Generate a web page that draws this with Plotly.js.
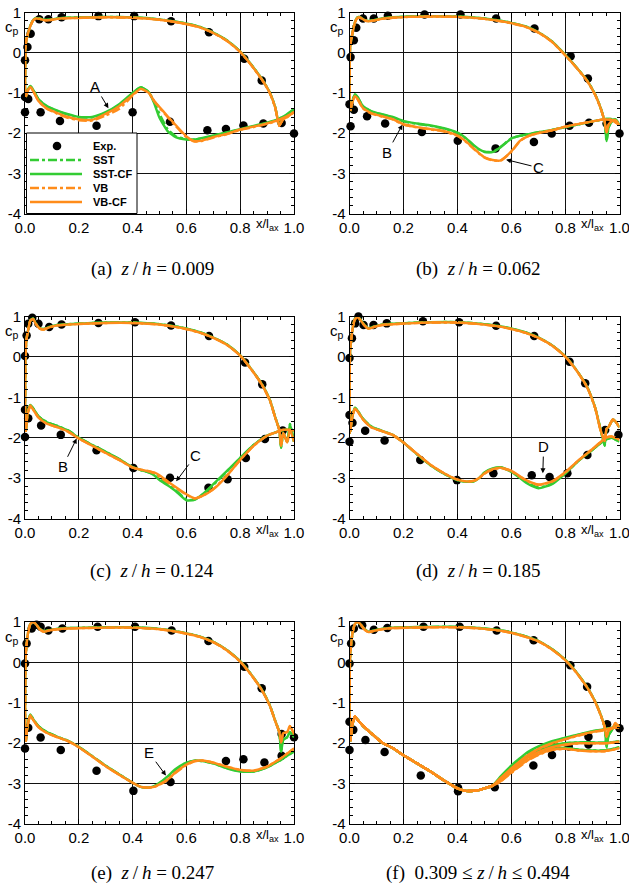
<!DOCTYPE html>
<html>
<head>
<meta charset="utf-8">
<script src="https://cdn.plot.ly/plotly-3.0.1.min.js"></script>
<style>
  html, body { margin: 0; padding: 0; background: #fff; }
  #chart { width: 629px; height: 888px; }
</style>
</head>
<body>
<div id="chart"></div>
<script>
// ---- stations along the blade (x / l_ax) ----
const xPS = [0, 0.002, 0.006, 0.012, 0.02, 0.03, 0.04, 0.055, 0.07, 0.09, 0.12, 0.16, 0.22, 0.3, 0.4, 0.5, 0.58, 0.65, 0.7, 0.75, 0.8, 0.84, 0.88, 0.91, 0.93, 0.945, 0.952, 0.96, 0.975, 0.985, 1.0];
const xSS = [0.003, 0.01, 0.02, 0.03, 0.05, 0.08, 0.12, 0.16, 0.2, 0.25, 0.3, 0.35, 0.4, 0.43, 0.46, 0.48, 0.5, 0.53, 0.56, 0.6, 0.63, 0.66, 0.7, 0.75, 0.8, 0.85, 0.9, 0.94, 0.95, 0.97, 1.0];

// ---- (a) z/h = 0.009 ----
const expA_x  = [0, 0.009, 0.021, 0.053, 0.087, 0.136, 0.273, 0.406, 0.543, 0.684, 0.815, 0.88, 0, 0.012, 0, 0.058, 0.13, 0.266, 0.4, 0.539, 0.678, 0.747, 0.812, 0.886, 0.954, 1.0];
const expA_cp = [-0.19, 0.14, 0.47, 0.83, 0.83, 0.88, 0.91, 0.91, 0.78, 0.51, -0.15, -0.69, -1.10, -1.15, -1.48, -1.48, -1.70, -1.82, -1.48, -1.72, -1.93, -1.90, -1.81, -1.76, -1.75, -2.01];
const psA_green  = [-1.1, 0.15, 0.35, 0.5, 0.67, 0.81, 0.86, 0.85, 0.82, 0.82, 0.85, 0.87, 0.88, 0.89, 0.88, 0.83, 0.75, 0.64, 0.5, 0.31, 0.03, -0.29, -0.65, -0.99, -1.35, -1.8, -1.72, -1.63, -1.56, -1.5, -1.4];
const psA_orange = [-1.1, 0.15, 0.35, 0.5, 0.66, 0.8, 0.85, 0.84, 0.81, 0.81, 0.84, 0.86, 0.87, 0.88, 0.87, 0.82, 0.74, 0.63, 0.49, 0.3, 0.02, -0.3, -0.66, -1.0, -1.36, -1.82, -1.74, -1.66, -1.6, -1.55, -1.48];
const ssA_sst   = [-1.1, -0.93, -0.83, -0.92, -1.16, -1.33, -1.45, -1.54, -1.61, -1.61, -1.5, -1.3, -1.01, -0.86, -0.98, -1.22, -1.52, -1.9, -2.08, -2.15, -2.16, -2.13, -2.07, -1.99, -1.91, -1.83, -1.75, -1.67, -1.63, -1.56, -1.42];
const ssA_sstcf = [-1.1, -0.93, -0.83, -0.92, -1.15, -1.32, -1.44, -1.53, -1.6, -1.6, -1.48, -1.28, -1.0, -0.86, -0.98, -1.25, -1.62, -1.95, -2.1, -2.16, -2.16, -2.12, -2.06, -1.98, -1.9, -1.82, -1.74, -1.66, -1.62, -1.55, -1.4];
const ssA_vb    = [-1.1, -0.95, -0.85, -0.95, -1.2, -1.39, -1.52, -1.62, -1.68, -1.69, -1.56, -1.4, -1.07, -0.9, -1.0, -1.2, -1.37, -1.6, -1.82, -2.1, -2.21, -2.19, -2.11, -2.03, -1.92, -1.85, -1.77, -1.69, -1.66, -1.6, -1.48];
const ssA_vbcf  = [-1.1, -0.95, -0.85, -0.95, -1.2, -1.38, -1.5, -1.6, -1.66, -1.67, -1.52, -1.33, -1.05, -0.9, -1.0, -1.2, -1.35, -1.58, -1.8, -2.08, -2.2, -2.18, -2.1, -2.02, -1.91, -1.84, -1.76, -1.68, -1.65, -1.59, -1.48];

// ---- (b) z/h = 0.062 ----
const expB_x  = [0.004, 0.016, 0.025, 0.05, 0.09, 0.142, 0.278, 0.411, 0.543, 0.685, 0.819, 0.883, 0, 0.016, 0.004, 0.065, 0.132, 0.268, 0.401, 0.541, 0.683, 0.749, 0.815, 0.887, 0.952, 1.0];
const expB_cp = [-0.11, 0.31, 0.62, 0.85, 0.85, 0.92, 0.95, 0.95, 0.85, 0.60, -0.09, -0.64, -1.28, -1.42, -1.83, -1.58, -1.76, -1.97, -2.19, -2.38, -2.22, -2.01, -1.82, -1.74, -1.76, -2.01];
const psB_green  = [-1.45, 0.1, 0.3, 0.52, 0.76, 0.88, 0.88, 0.82, 0.79, 0.81, 0.85, 0.88, 0.9, 0.91, 0.9, 0.85, 0.77, 0.66, 0.51, 0.28, -0.06, -0.36, -0.69, -1.04, -1.37, -1.72, -2.2, -1.85, -1.68, -1.66, -1.78];
const psB_orange = [-1.45, 0.1, 0.3, 0.52, 0.75, 0.87, 0.87, 0.81, 0.78, 0.8, 0.84, 0.87, 0.89, 0.9, 0.89, 0.84, 0.76, 0.65, 0.5, 0.27, -0.07, -0.37, -0.7, -1.05, -1.38, -1.72, -1.98, -1.78, -1.68, -1.68, -1.8];
const ssB_sst   = [-1.45, -1.22, -1.04, -1.11, -1.34, -1.46, -1.54, -1.61, -1.71, -1.77, -1.82, -1.89, -2.0, -2.13, -2.31, -2.41, -2.47, -2.47, -2.34, -2.13, -2.07, -2.03, -1.98, -1.92, -1.85, -1.78, -1.71, -1.66, -1.65, -1.65, -1.78];
const ssB_sstcf = [-1.45, -1.22, -1.03, -1.1, -1.33, -1.45, -1.53, -1.6, -1.7, -1.76, -1.81, -1.88, -1.99, -2.12, -2.3, -2.4, -2.46, -2.47, -2.35, -2.13, -2.07, -2.03, -1.98, -1.92, -1.85, -1.78, -1.71, -1.66, -1.65, -1.65, -1.78];
const ssB_vb    = [-1.45, -1.25, -1.09, -1.16, -1.39, -1.51, -1.59, -1.66, -1.79, -1.86, -1.91, -1.96, -2.07, -2.21, -2.39, -2.51, -2.61, -2.68, -2.68, -2.46, -2.21, -2.08, -2.0, -1.93, -1.84, -1.77, -1.71, -1.66, -1.66, -1.67, -1.8];
const ssB_vbcf  = [-1.45, -1.25, -1.08, -1.15, -1.38, -1.5, -1.58, -1.65, -1.78, -1.85, -1.9, -1.95, -2.06, -2.2, -2.38, -2.5, -2.6, -2.67, -2.68, -2.45, -2.2, -2.08, -2.0, -1.93, -1.84, -1.77, -1.71, -1.66, -1.66, -1.67, -1.8];

// ---- (c) z/h = 0.124 ----
const expC_x  = [0, 0.006, 0.012, 0.027, 0.05, 0.09, 0.136, 0.273, 0.409, 0.543, 0.684, 0.818, 0.882, 0, 0.012, 0, 0.06, 0.133, 0.266, 0.403, 0.539, 0.682, 0.753, 0.821, 0.892, 0.958];
const expC_cp = [0.02, 0.53, 0.82, 0.97, 0.82, 0.74, 0.80, 0.84, 0.86, 0.78, 0.52, -0.14, -0.68, -1.31, -1.52, -1.98, -1.70, -1.93, -2.31, -2.75, -2.99, -3.24, -3.03, -2.50, -2.03, -1.82];
const psC_green  = [-1.85, 0.1, 0.45, 0.68, 0.9, 0.95, 0.83, 0.71, 0.69, 0.74, 0.79, 0.81, 0.83, 0.85, 0.85, 0.81, 0.73, 0.61, 0.48, 0.31, 0.04, -0.29, -0.67, -1.06, -1.49, -1.8, -2.25, -1.88, -2.1, -1.66, -2.1];
const psC_orange = [-1.85, 0.1, 0.45, 0.68, 0.9, 0.94, 0.82, 0.7, 0.68, 0.73, 0.78, 0.8, 0.82, 0.84, 0.84, 0.8, 0.72, 0.6, 0.47, 0.3, 0.03, -0.3, -0.68, -1.07, -1.5, -1.8, -2.2, -1.88, -2.12, -1.8, -2.1];
const ssC_sst   = [-1.85, -1.38, -1.19, -1.27, -1.47, -1.61, -1.71, -1.82, -2.0, -2.18, -2.35, -2.53, -2.73, -2.8, -2.86, -2.9, -3.0, -3.16, -3.3, -3.53, -3.54, -3.41, -3.17, -2.84, -2.5, -2.18, -1.95, -1.85, -1.83, -1.8, -1.82];
const ssC_sstcf = [-1.85, -1.38, -1.19, -1.27, -1.47, -1.61, -1.71, -1.82, -2.0, -2.18, -2.35, -2.53, -2.73, -2.8, -2.86, -2.93, -3.05, -3.18, -3.32, -3.55, -3.53, -3.4, -3.15, -2.83, -2.5, -2.18, -1.95, -1.85, -1.83, -1.8, -1.82];
const ssC_vb    = [-1.85, -1.4, -1.21, -1.3, -1.5, -1.65, -1.74, -1.85, -2.02, -2.2, -2.38, -2.55, -2.74, -2.79, -2.83, -2.88, -2.97, -3.1, -3.24, -3.41, -3.5, -3.44, -3.27, -2.94, -2.55, -2.2, -1.95, -1.85, -1.82, -1.8, -1.82];
const ssC_vbcf  = [-1.85, -1.4, -1.21, -1.3, -1.5, -1.65, -1.74, -1.85, -2.02, -2.2, -2.38, -2.55, -2.74, -2.79, -2.83, -2.86, -2.93, -3.08, -3.22, -3.4, -3.5, -3.44, -3.28, -2.95, -2.55, -2.2, -1.95, -1.85, -1.82, -1.8, -1.82];

// ---- (d) z/h = 0.185 ----
const expD_x  = [0, 0.009, 0.021, 0.033, 0.052, 0.089, 0.138, 0.272, 0.406, 0.543, 0.684, 0.815, 0.873, 0, 0.011, 0, 0.058, 0.13, 0.262, 0.398, 0.533, 0.675, 0.741, 0.807, 0.881, 0.947, 0.996];
const expD_cp = [-0.03, 0.46, 0.83, 1.0, 0.79, 0.79, 0.83, 0.88, 0.86, 0.77, 0.52, -0.12, -0.65, -1.44, -1.63, -2.10, -1.83, -2.07, -2.55, -3.05, -2.88, -2.93, -2.97, -2.88, -2.43, -1.81, -1.93];
const psD_green  = [-1.9, 0.1, 0.4, 0.72, 0.94, 0.99, 0.93, 0.79, 0.71, 0.75, 0.8, 0.82, 0.84, 0.86, 0.86, 0.81, 0.73, 0.61, 0.48, 0.29, 0.01, -0.32, -0.74, -1.26, -1.8, -2.2, -1.78, -1.73, -1.55, -1.6, -1.75];
const psD_orange = [-1.9, 0.1, 0.4, 0.72, 0.93, 0.98, 0.92, 0.78, 0.7, 0.74, 0.79, 0.81, 0.83, 0.85, 0.85, 0.8, 0.72, 0.6, 0.47, 0.28, 0.0, -0.33, -0.75, -1.27, -1.82, -2.08, -1.78, -1.73, -1.55, -1.6, -1.75];
const ssD_sst   = [-1.85, -1.48, -1.26, -1.33, -1.53, -1.72, -1.83, -1.93, -2.12, -2.41, -2.68, -2.89, -3.05, -3.09, -3.08, -3.0, -2.87, -2.77, -2.73, -2.84, -2.98, -3.12, -3.23, -3.14, -2.88, -2.56, -2.3, -2.08, -2.04, -2.0, -2.1];
const ssD_sstcf = [-1.85, -1.48, -1.26, -1.33, -1.53, -1.72, -1.83, -1.93, -2.12, -2.41, -2.68, -2.89, -3.05, -3.09, -3.08, -3.0, -2.86, -2.76, -2.73, -2.85, -2.99, -3.14, -3.25, -3.15, -2.88, -2.56, -2.3, -2.08, -2.04, -2.0, -2.1];
const ssD_vb    = [-1.85, -1.5, -1.28, -1.35, -1.55, -1.74, -1.84, -1.93, -2.12, -2.4, -2.67, -2.88, -3.04, -3.08, -3.07, -3.0, -2.89, -2.79, -2.75, -2.83, -2.96, -3.08, -3.17, -3.09, -2.86, -2.55, -2.28, -2.05, -2.0, -1.97, -2.05];
const ssD_vbcf  = [-1.85, -1.5, -1.28, -1.35, -1.55, -1.74, -1.84, -1.93, -2.12, -2.4, -2.67, -2.88, -3.04, -3.08, -3.07, -3.0, -2.88, -2.78, -2.74, -2.82, -2.95, -3.07, -3.16, -3.08, -2.85, -2.55, -2.28, -2.05, -2.0, -1.97, -2.05];

// ---- (e) z/h = 0.247 ----
const expE_x  = [0, 0.006, 0.025, 0.043, 0.058, 0.087, 0.139, 0.27, 0.409, 0.545, 0.682, 0.815, 0.88, 0.012, 0, 0.058, 0.133, 0.266, 0.403, 0.541, 0.747, 0.812, 0.89, 0.954, 0.954, 1.0];
const expE_cp = [-0.03, 0.47, 0.84, 0.93, 0.88, 0.79, 0.84, 0.88, 0.88, 0.79, 0.53, -0.11, -0.64, -1.62, -2.13, -1.86, -2.17, -2.68, -3.18, -2.96, -2.44, -2.40, -2.48, -1.77, -2.31, -1.85];
const psE_green  = [-1.95, 0.1, 0.45, 0.75, 0.95, 1.0, 0.95, 0.83, 0.77, 0.8, 0.83, 0.85, 0.86, 0.87, 0.87, 0.83, 0.75, 0.64, 0.51, 0.31, 0.03, -0.29, -0.67, -1.06, -1.44, -1.72, -2.22, -1.92, -1.85, -1.72, -1.85];
const psE_orange = [-1.95, 0.1, 0.45, 0.75, 0.95, 1.0, 0.95, 0.82, 0.76, 0.79, 0.82, 0.84, 0.85, 0.86, 0.86, 0.82, 0.74, 0.63, 0.5, 0.3, 0.02, -0.3, -0.68, -1.07, -1.45, -1.72, -1.98, -1.75, -1.72, -1.57, -1.78];
const ssE_sst   = [-1.96, -1.53, -1.29, -1.4, -1.58, -1.72, -1.84, -1.94, -2.09, -2.32, -2.56, -2.77, -2.98, -3.08, -3.1, -3.07, -2.99, -2.84, -2.66, -2.49, -2.43, -2.44, -2.5, -2.61, -2.69, -2.7, -2.6, -2.45, -2.42, -2.33, -2.2];
const ssE_sstcf = [-1.96, -1.53, -1.29, -1.4, -1.58, -1.72, -1.84, -1.94, -2.09, -2.32, -2.56, -2.77, -2.98, -3.08, -3.1, -3.06, -2.98, -2.82, -2.64, -2.48, -2.43, -2.44, -2.5, -2.62, -2.7, -2.7, -2.6, -2.45, -2.42, -2.33, -2.21];
const ssE_vb    = [-1.96, -1.55, -1.31, -1.42, -1.6, -1.74, -1.85, -1.95, -2.1, -2.33, -2.57, -2.78, -2.98, -3.08, -3.1, -3.08, -3.03, -2.91, -2.73, -2.54, -2.45, -2.43, -2.48, -2.58, -2.66, -2.68, -2.58, -2.42, -2.38, -2.28, -2.13];
const ssE_vbcf  = [-1.96, -1.55, -1.31, -1.42, -1.6, -1.74, -1.85, -1.95, -2.1, -2.33, -2.57, -2.78, -2.98, -3.08, -3.1, -3.08, -3.02, -2.9, -2.72, -2.53, -2.44, -2.43, -2.48, -2.58, -2.66, -2.68, -2.58, -2.42, -2.38, -2.28, -2.13];

// ---- (f) 0.309 <= z/h <= 0.494 (three spanwise sections) ----
const expF_x  = [0, 0.006, 0.016, 0.028, 0.047, 0.09, 0.14, 0.274, 0.408, 0.545, 0.682, 0.818, 0.88, 0, 0.014, 0, 0.059, 0.13, 0.264, 0.402, 0.402, 0.538, 0.681, 0.75, 0.812, 0.885, 0.885, 0.954, 1.0];
const expF_cp = [-0.03, 0.47, 0.84, 1.02, 0.92, 0.81, 0.85, 0.88, 0.88, 0.79, 0.55, -0.07, -0.60, -1.47, -1.67, -2.17, -1.92, -2.22, -2.80, -3.10, -3.19, -3.09, -2.55, -2.29, -2.08, -2.03, -1.84, -1.53, -1.63];
const psF_green  = [-1.95, 0.1, 0.45, 0.75, 0.95, 1.0, 0.95, 0.83, 0.76, 0.79, 0.83, 0.86, 0.87, 0.88, 0.88, 0.84, 0.77, 0.65, 0.53, 0.33, 0.06, -0.24, -0.61, -0.97, -1.29, -1.6, -2.1, -1.8, -1.64, -1.52, -1.62];
const psF_orange = [-1.95, 0.1, 0.45, 0.75, 0.95, 1.0, 0.95, 0.82, 0.75, 0.78, 0.82, 0.85, 0.86, 0.87, 0.87, 0.83, 0.76, 0.64, 0.52, 0.32, 0.05, -0.25, -0.62, -0.98, -1.3, -1.6, -1.85, -1.68, -1.62, -1.5, -1.62];
// suction side up to x = 0.53, common to the three sections
const ssF_lead = [-1.95, -1.55, -1.34, -1.42, -1.57, -1.75, -1.98, -2.12, -2.3, -2.5, -2.7, -2.92, -3.12, -3.18, -3.18, -3.16, -3.12, -3.05];
// suction side from x = 0.56 to the trailing edge
const ssF1_sst   = [-2.84, -2.58, -2.4, -2.24, -2.1, -1.97, -1.87, -1.79, -1.71, -1.67, -1.65, -1.62, -1.58];
const ssF1_sstcf = [-2.82, -2.55, -2.38, -2.22, -2.08, -1.95, -1.86, -1.78, -1.7, -1.66, -1.64, -1.62, -1.58];
const ssF1_vb    = [-2.88, -2.64, -2.47, -2.31, -2.15, -2.01, -1.9, -1.81, -1.73, -1.68, -1.66, -1.63, -1.6];
const ssF1_vbcf  = [-2.86, -2.62, -2.45, -2.3, -2.14, -2.0, -1.9, -1.8, -1.72, -1.67, -1.65, -1.63, -1.6];
const ssF2_sst   = [-2.87, -2.62, -2.46, -2.31, -2.17, -2.06, -2.0, -1.98, -1.98, -1.99, -1.99, -1.98, -1.95];
const ssF2_sstcf = [-2.86, -2.6, -2.44, -2.3, -2.16, -2.05, -2.0, -1.98, -1.98, -1.99, -1.99, -1.98, -1.95];
const ssF2_vb    = [-2.91, -2.68, -2.52, -2.37, -2.23, -2.11, -2.04, -2.0, -2.0, -2.0, -2.0, -1.99, -1.96];
const ssF2_vbcf  = [-2.9, -2.66, -2.5, -2.36, -2.22, -2.1, -2.03, -2.0, -2.0, -2.0, -2.0, -1.99, -1.96];
const ssF3_sst   = [-2.91, -2.67, -2.52, -2.37, -2.23, -2.13, -2.12, -2.16, -2.18, -2.18, -2.17, -2.15, -2.1];
const ssF3_sstcf = [-2.9, -2.65, -2.5, -2.35, -2.22, -2.12, -2.12, -2.16, -2.18, -2.18, -2.17, -2.15, -2.1];
const ssF3_vb    = [-2.95, -2.73, -2.58, -2.43, -2.29, -2.17, -2.14, -2.18, -2.2, -2.2, -2.19, -2.17, -2.12];
const ssF3_vbcf  = [-2.94, -2.72, -2.56, -2.42, -2.28, -2.16, -2.14, -2.18, -2.2, -2.2, -2.19, -2.17, -2.12];

const xTickVals = [0, 0.2, 0.4, 0.6, 0.8, 1.0];
const xTickText = ['0.0', '0.2', '0.4', '0.6', '0.8', '1.0'];
const yTickVals = [-4, -3, -2, -1, 0, 1];
const yTickText = ['-4', '-3', '-2', '-1', '0', '1'];

const TS = '\u2009';
const captions = [
  '(a)\u2002<i>z</i>' + TS + '/' + TS + '<i>h</i> = 0.009',
  '(b)\u2002<i>z</i>' + TS + '/' + TS + '<i>h</i> = 0.062',
  '(c)\u2002<i>z</i>' + TS + '/' + TS + '<i>h</i> = 0.124',
  '(d)\u2002<i>z</i>' + TS + '/' + TS + '<i>h</i> = 0.185',
  '(e)\u2002<i>z</i>' + TS + '/' + TS + '<i>h</i> = 0.247',
  '(f)\u20020.309 ≤ <i>z</i>' + TS + '/' + TS + '<i>h</i> ≤ 0.494'
];

// ---- styling ----
const GREEN = '#33cc33';
const ORANGE = '#ff8c1a';
const LW = 2.4;
const models = [
  { name: 'SST',    key: 'sst',   fam: 'green',  color: GREEN,  dash: 'dashdot' },
  { name: 'SST-CF', key: 'sstcf', fam: 'green',  color: GREEN,  dash: 'solid' },
  { name: 'VB',     key: 'vb',    fam: 'orange', color: ORANGE, dash: 'dashdot' },
  { name: 'VB-CF',  key: 'vbcf',  fam: 'orange', color: ORANGE, dash: 'solid' }
];

const panels = [
  { exp: [expA_x, expA_cp], ps: { green: psA_green, orange: psA_orange },
    ss: [{ sst: ssA_sst, sstcf: ssA_sstcf, vb: ssA_vb, vbcf: ssA_vbcf }] },
  { exp: [expB_x, expB_cp], ps: { green: psB_green, orange: psB_orange },
    ss: [{ sst: ssB_sst, sstcf: ssB_sstcf, vb: ssB_vb, vbcf: ssB_vbcf }] },
  { exp: [expC_x, expC_cp], ps: { green: psC_green, orange: psC_orange },
    ss: [{ sst: ssC_sst, sstcf: ssC_sstcf, vb: ssC_vb, vbcf: ssC_vbcf }] },
  { exp: [expD_x, expD_cp], ps: { green: psD_green, orange: psD_orange },
    ss: [{ sst: ssD_sst, sstcf: ssD_sstcf, vb: ssD_vb, vbcf: ssD_vbcf }] },
  { exp: [expE_x, expE_cp], ps: { green: psE_green, orange: psE_orange },
    ss: [{ sst: ssE_sst, sstcf: ssE_sstcf, vb: ssE_vb, vbcf: ssE_vbcf }] },
  { exp: [expF_x, expF_cp], ps: { green: psF_green, orange: psF_orange },
    ss: [
      { sst: ssF_lead.concat(ssF1_sst), sstcf: ssF_lead.concat(ssF1_sstcf), vb: ssF_lead.concat(ssF1_vb), vbcf: ssF_lead.concat(ssF1_vbcf) },
      { sst: ssF_lead.concat(ssF2_sst), sstcf: ssF_lead.concat(ssF2_sstcf), vb: ssF_lead.concat(ssF2_vb), vbcf: ssF_lead.concat(ssF2_vbcf) },
      { sst: ssF_lead.concat(ssF3_sst), sstcf: ssF_lead.concat(ssF3_sstcf), vb: ssF_lead.concat(ssF3_vb), vbcf: ssF_lead.concat(ssF3_vbcf) }
    ] }
];

// subplot frames in paper fractions (629 x 888 page)
const W = 629, H = 888;
const colX = [[25 / W, 294 / W], [349.5 / W, 619.5 / W]];
const rowY = [[1 - 213.5 / H, 1 - 12.5 / H], [1 - 518.5 / H, 1 - 316.5 / H], [1 - 824 / H, 1 - 622 / H]];
const capX = [152 / W, 478 / W];
const capY = [1 - 269 / H, 1 - 571 / H, 1 - 873 / H];

const SANS = 'Liberation Sans, Arial, sans-serif';
const TICKFONT = { family: SANS, size: 15, color: '#000' };

const traces = [];
const annotations = [];
const shapes = [];
const layout = {
  width: W, height: H,
  margin: { l: 0, r: 0, t: 0, b: 0 },
  paper_bgcolor: '#fff', plot_bgcolor: '#fff',
  showlegend: false,
  annotations: annotations,
  shapes: shapes
};

panels.forEach((p, i) => {
  const k = i + 1;
  const xa = 'x' + (k === 1 ? '' : k), ya = 'y' + (k === 1 ? '' : k);
  const col = i % 2, row = Math.floor(i / 2);

  layout['xaxis' + (k === 1 ? '' : k)] = {
    domain: colX[col], anchor: ya, range: [0, 1],
    tickmode: 'array', tickvals: xTickVals, ticktext: xTickText,
    ticks: 'inside', ticklen: 5, tickcolor: '#000', ticklabeloverflow: 'allow',
    minor: { dtick: 0.05, ticks: 'inside', ticklen: 3, tickcolor: '#000', showgrid: false },
    showgrid: true, gridcolor: '#111', gridwidth: 1,
    showline: true, linecolor: '#000', linewidth: 1, mirror: 'allticks',
    zeroline: false, tickfont: TICKFONT, fixedrange: true
  };
  layout['yaxis' + (k === 1 ? '' : k)] = {
    domain: rowY[row], anchor: xa, range: [-4, 1],
    tickmode: 'array', tickvals: yTickVals, ticktext: yTickText,
    ticks: 'inside', ticklen: 5, tickcolor: '#000', ticklabeloverflow: 'allow',
    minor: { dtick: 0.2, ticks: 'inside', ticklen: 3, tickcolor: '#000', showgrid: false },
    showgrid: true, gridcolor: '#111', gridwidth: 1,
    showline: true, linecolor: '#000', linewidth: 1, mirror: 'allticks',
    zeroline: false, tickfont: TICKFONT, fixedrange: true
  };

  // measurements
  traces.push({
    type: 'scatter', mode: 'markers', name: 'Exp.', xaxis: xa, yaxis: ya,
    x: p.exp[0], y: p.exp[1],
    marker: { color: '#000', size: 8.5, line: { width: 0 } },
    cliponaxis: false
  });

  // simulations: pressure side and suction side of every model
  models.forEach(m => {
    const line = { color: m.color, width: LW, dash: m.dash, shape: 'spline', smoothing: 0.5 };
    traces.push({
      type: 'scatter', mode: 'lines', name: m.name, xaxis: xa, yaxis: ya,
      x: xPS, y: p.ps[m.fam], line: line
    });
    p.ss.forEach(sec => {
      traces.push({
        type: 'scatter', mode: 'lines', name: m.name, xaxis: xa, yaxis: ya,
        x: xSS, y: sec[m.key], line: line
      });
    });
  });

  // axis labels
  annotations.push({
    xref: xa + ' domain', yref: ya, x: -0.047, y: 0.62, text: 'c<sub>p</sub>',
    showarrow: false, xanchor: 'center', yanchor: 'middle',
    font: { family: SANS, size: 15, color: '#000' }
  });
  annotations.push({
    xref: xa, yref: ya + ' domain', x: 0.9, y: 0, yshift: -1, text: 'x/l<sub>ax</sub>',
    showarrow: false, xanchor: 'center', yanchor: 'top',
    font: { family: SANS, size: 13, color: '#000' }
  });
  // caption
  annotations.push({
    xref: 'paper', yref: 'paper', x: capX[col], y: capY[row], text: captions[i],
    showarrow: false, xanchor: 'center', yanchor: 'middle',
    font: { family: 'Liberation Serif, Times New Roman, serif', size: 19, color: '#000' }
  });
});

// key for panel (a), laid out in its axis-domain fractions
(function drawKey() {
  const fx = px => (px - 25) / 269;          // page px -> x domain of panel (a)
  const fy = py => (213.5 - py) / 201;       // page px -> y domain of panel (a)
  shapes.push({
    type: 'rect', xref: 'x domain', yref: 'y domain', layer: 'above',
    x0: fx(26.5), x1: fx(137), y0: fy(213.5), y1: fy(133),
    fillcolor: '#fff', line: { color: '#000', width: 1 }
  });
  const rows = [
    { label: 'Exp.', y: 146 },
    { label: models[0].name, y: 160, m: models[0] },
    { label: models[1].name, y: 174, m: models[1] },
    { label: models[2].name, y: 188, m: models[2] },
    { label: models[3].name, y: 202, m: models[3] }
  ];
  rows.forEach(r => {
    if (r.m) {
      shapes.push({
        type: 'line', xref: 'x domain', yref: 'y domain', layer: 'above',
        x0: fx(30), x1: fx(82), y0: fy(r.y), y1: fy(r.y),
        line: { color: r.m.color, width: LW, dash: r.m.dash }
      });
    } else {
      shapes.push({
        type: 'circle', xref: 'x domain', yref: 'y domain', layer: 'above',
        xsizemode: 'pixel', ysizemode: 'pixel', xanchor: fx(57), yanchor: fy(r.y),
        x0: -4.3, x1: 4.3, y0: -4.3, y1: 4.3,
        fillcolor: '#000', line: { color: '#000', width: 0 }
      });
    }
    annotations.push({
      xref: 'x domain', yref: 'y domain', x: fx(91), y: fy(r.y), text: '<b>' + r.label + '</b>',
      showarrow: false, xanchor: 'left', yanchor: 'middle',
      font: { family: SANS, size: 11, color: '#000' }
    });
  });
})();

// labelled features
function marker(k, letter, tx, ty, ax, ay) {
  const xa = 'x' + (k === 1 ? '' : k), ya = 'y' + (k === 1 ? '' : k);
  annotations.push({
    xref: xa, yref: ya, axref: xa, ayref: ya,
    x: tx, y: ty, ax: ax, ay: ay, text: letter,
    showarrow: true, arrowhead: 2, arrowsize: 1, arrowwidth: 1, arrowcolor: '#000',
    standoff: 0, startstandoff: 0,
    font: { family: SANS, size: 15, color: '#000' }
  });
}
marker(1, 'A', 0.31, -1.38, 0.262, -0.84);
marker(2, 'B', 0.196, -1.79, 0.14, -2.48);
marker(2, 'C', 0.58, -2.66, 0.7, -2.86);
marker(3, 'B', 0.192, -2.02, 0.14, -2.72);
marker(3, 'C', 0.562, -3.08, 0.635, -2.43);
marker(4, 'D', 0.716, -2.88, 0.719, -2.22);
marker(5, 'E', 0.524, -2.8, 0.462, -2.24);

Plotly.newPlot('chart', traces, layout, { staticPlot: true, displayModeBar: false });
</script>
</body>
</html>
